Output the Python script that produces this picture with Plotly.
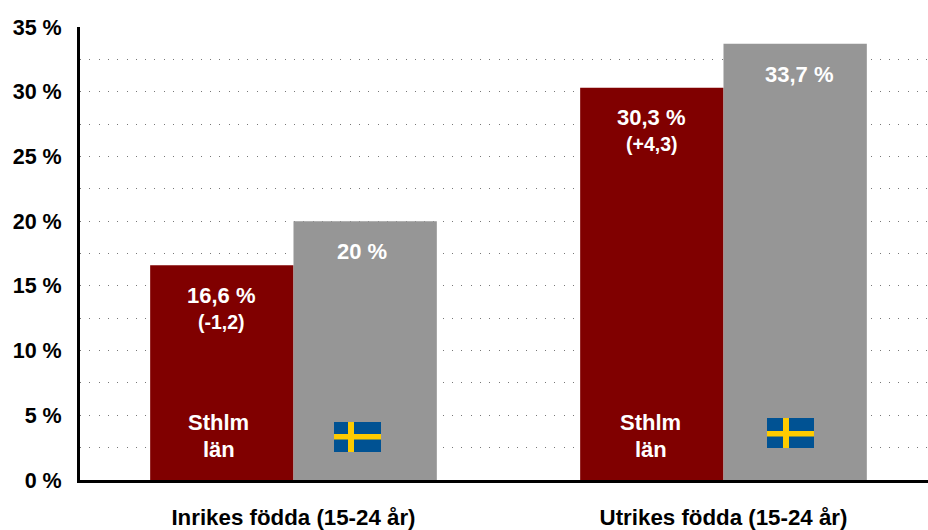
import plotly.graph_objects as go

categories = ["Inrikes födda (15-24 år)", "Utrikes födda (15-24 år)"]
sthlm_values = [16.6, 30.3]
sverige_values = [20, 33.7]
sthlm_labels = ["16,6 %", "30,3 %"]
sverige_labels = ["20 %", "33,7 %"]
change_labels = ["(-1,2)", "(+4,3)"]
y_ticks = [0, 5, 10, 15, 20, 25, 30, 35]
y_tick_labels = ["0 %", "5 %", "10 %", "15 %", "20 %", "25 %", "30 %", "35 %"]

W, H = 928, 530
L, T, B = 80, 27, 50
FONT = "Liberation Sans, Arial, sans-serif"
DARK_RED = "#800000"
GREY = "#969696"
BLUE = "#005293"
YELLOW = "#FECB00"
DOTS = "1px,8.3px"

fig = go.Figure()
fig.add_bar(x=categories, y=sthlm_values, marker=dict(color=DARK_RED, line_width=0), name="Sthlm län")
fig.add_bar(x=categories, y=sverige_values, marker=dict(color=GREY, line_width=0), name="Sverige")


def note(cat, y, text, xshift, yshift, size):
    fig.add_annotation(x=cat, y=y, xref="x", yref="y", text=f"<b>{text}</b>", showarrow=False,
                       xshift=xshift, yshift=yshift, xanchor="center", yanchor="middle",
                       font=dict(family=FONT, size=size, color="white"))


for i, cat in enumerate(categories):
    sx = -71.5
    note(cat, sthlm_values[i], sthlm_labels[i], sx, -30, 22)
    note(cat, sthlm_values[i], change_labels[i], sx, -56.5, 19.5)
    note(cat, sverige_values[i], sverige_labels[i], [69, 76][i], -30.5, 22)
    note(cat, 0, "Sthlm", sx - 3 if i == 0 else sx - 1, 58, 22)
    note(cat, 0, "län", sx - 3 if i == 0 else sx - 1, 31, 22)


def px_rect(x0, y0, x1, y1, color):
    # pixel positions on the page -> paper fractions
    fig.add_shape(type="rect", xref="paper", yref="paper", layer="above",
                  x0=(x0 - L) / (W - L), x1=(x1 - L) / (W - L),
                  y0=(H - B - y1) / (H - T - B), y1=(H - B - y0) / (H - T - B),
                  fillcolor=color, line_width=0)


for fx, fy, cx, cy in [(334, 422, 348, 434), (767, 418, 783, 431)]:
    px_rect(fx, fy, fx + 47, fy + 30, BLUE)
    px_rect(cx, fy, cx + 6, fy + 30, YELLOW)
    px_rect(fx, cy, fx + 47, cy + 5.5, YELLOW)

fig.update_layout(
    width=W, height=H, margin=dict(l=L, r=0, t=T, b=B, pad=0),
    paper_bgcolor="white", plot_bgcolor="white",
    barmode="group", bargap=1 / 3, bargroupgap=0, showlegend=False,
    font=dict(family=FONT, color="black"),
    xaxis=dict(type="category", range=[-0.4965, 1.4756], automargin=False, showline=True, linecolor="black", linewidth=3,
               showgrid=False, ticks="outside", ticklen=15, tickcolor="rgba(0,0,0,0)",
               tickfont=dict(family=FONT, size=22.3, color="black"),
               tickvals=categories, ticktext=[f"<b>{c}</b>" for c in categories]),
    yaxis=dict(range=[0, 35], automargin=False, showline=True, linecolor="black", linewidth=3,
               tickvals=y_ticks, ticktext=[f"<b>{t}</b>" for t in y_tick_labels],
               ticks="outside", ticklen=11, tickcolor="rgba(0,0,0,0)",
               tickfont=dict(family=FONT, size=21.5, color="black"),
               showgrid=True, gridcolor="#777777", gridwidth=1, griddash=DOTS, zeroline=False,
               minor=dict(tick0=0, dtick=2.5, showgrid=True, gridcolor="#777777", gridwidth=1,
                          griddash=DOTS, ticks="")),
)
fig.write_html("out.html", default_width=f"{W}px", default_height=f"{H}px",
               config={"displayModeBar": False},
               post_script="document.body.style.margin='0';document.documentElement.style.overflow='hidden';")
